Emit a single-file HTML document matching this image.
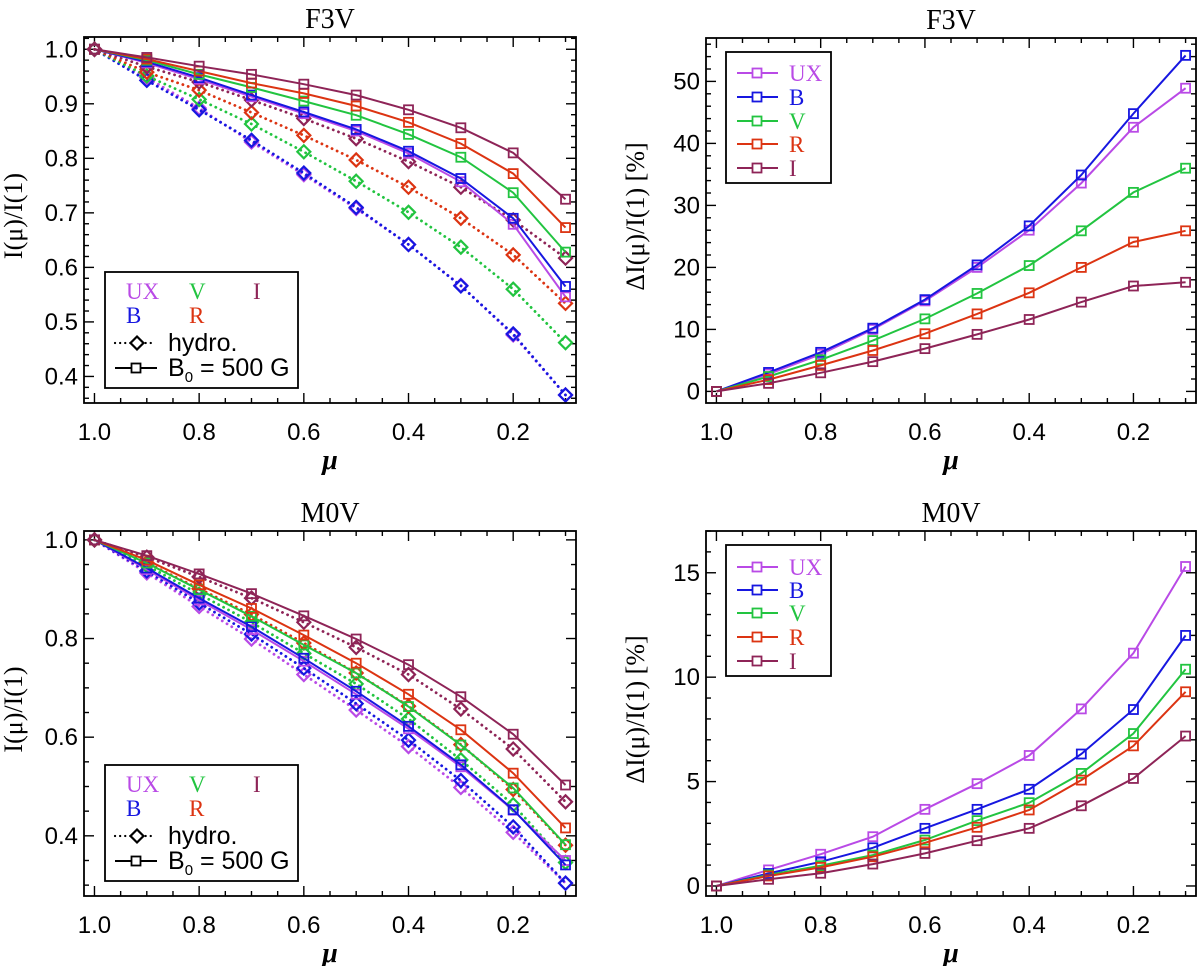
<!DOCTYPE html>
<html><head><meta charset="utf-8">
<style>
html,body{margin:0;padding:0;background:#fff;}
svg{display:block;font-family:"Liberation Sans",sans-serif;}
</style></head>
<body>
<svg id="fig" width="1200" height="966" viewBox="0 0 1200 966" xmlns="http://www.w3.org/2000/svg"></svg>
<script>
// ---------- data ----------
const mu = [1.0, 0.9, 0.8, 0.7, 0.6, 0.5, 0.4, 0.3, 0.2, 0.1];
const bands = ["UX", "B", "V", "R", "I"];
// F3V intensity, B0 = 500 G
const f3vMagUX = [1, 0.975, 0.945, 0.913, 0.882, 0.850, 0.809, 0.757, 0.679, 0.546];
const f3vMagB  = [1, 0.977, 0.948, 0.916, 0.885, 0.853, 0.813, 0.763, 0.690, 0.565];
const f3vMagV  = [1, 0.980, 0.954, 0.930, 0.905, 0.879, 0.844, 0.802, 0.737, 0.628];
const f3vMagR  = [1, 0.982, 0.960, 0.938, 0.919, 0.896, 0.866, 0.827, 0.772, 0.673];
const f3vMagI  = [1, 0.985, 0.969, 0.954, 0.936, 0.916, 0.889, 0.856, 0.810, 0.725];
// F3V intensity, hydro
const f3vHydUX = [1, 0.948, 0.892, 0.830, 0.770, 0.708, 0.642, 0.567, 0.476, 0.366];
const f3vHydB  = [1, 0.943, 0.889, 0.833, 0.773, 0.710, 0.642, 0.566, 0.478, 0.366];
const f3vHydV  = [1, 0.951, 0.908, 0.863, 0.812, 0.758, 0.701, 0.637, 0.560, 0.462];
const f3vHydR  = [1, 0.958, 0.925, 0.884, 0.842, 0.797, 0.747, 0.690, 0.623, 0.534];
const f3vHydI  = [1, 0.968, 0.940, 0.907, 0.873, 0.836, 0.794, 0.747, 0.687, 0.617];
// F3V delta [%]
const f3vDUX = [0, 2.8, 6.0, 10.0, 14.6, 20.0, 26.0, 33.6, 42.6, 48.9];
const f3vDB  = [0, 3.06, 6.3, 10.2, 14.8, 20.4, 26.7, 34.9, 44.8, 54.2];
const f3vDV  = [0, 2.4, 5.1, 8.2, 11.7, 15.8, 20.3, 25.9, 32.1, 36.0];
const f3vDR  = [0, 1.9, 4.2, 6.6, 9.3, 12.5, 15.9, 20.0, 24.1, 25.9];
const f3vDI  = [0, 1.3, 3.0, 4.8, 6.9, 9.2, 11.6, 14.4, 17.0, 17.6];
// M0V intensity, B0 = 500 G
const m0vMagUX = [1, 0.940, 0.878, 0.818, 0.754, 0.687, 0.617, 0.540, 0.452, 0.350];
const m0vMagB  = [1, 0.943, 0.882, 0.824, 0.760, 0.693, 0.622, 0.544, 0.453, 0.341];
const m0vMagV  = [1, 0.953, 0.899, 0.845, 0.787, 0.730, 0.662, 0.584, 0.497, 0.382];
const m0vMagR  = [1, 0.959, 0.909, 0.861, 0.807, 0.750, 0.687, 0.615, 0.527, 0.416];
const m0vMagI  = [1, 0.968, 0.931, 0.891, 0.846, 0.799, 0.747, 0.682, 0.606, 0.503];
// M0V intensity, hydro
const m0vHydUX = [1, 0.933, 0.865, 0.799, 0.727, 0.655, 0.581, 0.498, 0.407, 0.304];
const m0vHydB  = [1, 0.937, 0.872, 0.809, 0.740, 0.668, 0.594, 0.512, 0.418, 0.304];
const m0vHydV  = [1, 0.948, 0.890, 0.833, 0.770, 0.708, 0.637, 0.554, 0.463, 0.346];
const m0vHydR  = [1, 0.954, 0.901, 0.849, 0.791, 0.730, 0.663, 0.585, 0.494, 0.381];
const m0vHydI  = [1, 0.965, 0.925, 0.882, 0.833, 0.782, 0.727, 0.657, 0.576, 0.469];
// M0V delta [%]
const m0vDUX = [0, 0.77, 1.52, 2.36, 3.67, 4.9, 6.25, 8.48, 11.15, 15.3];
const m0vDB  = [0, 0.6, 1.16, 1.83, 2.76, 3.67, 4.63, 6.32, 8.45, 12.0];
const m0vDV  = [0, 0.53, 0.97, 1.48, 2.2, 3.13, 3.99, 5.39, 7.3, 10.38];
const m0vDR  = [0, 0.48, 0.89, 1.40, 2.07, 2.81, 3.64, 5.07, 6.71, 9.3];
const m0vDI  = [0, 0.32, 0.61, 1.05, 1.56, 2.17, 2.76, 3.84, 5.15, 7.18];
// tick labels
const xTickLabels = ["1.0", "0.8", "0.6", "0.4", "0.2"];
const f3vITicks = ["1.0", "0.9", "0.8", "0.7", "0.6", "0.5", "0.4"];
const f3vDTicks = ["0", "10", "20", "30", "40", "50"];
const m0vITicks = ["1.0", "0.8", "0.6", "0.4"];
const m0vDTicks = ["0", "5", "10", "15"];

const colors = {UX:"#b94ae6", B:"#1717e0", V:"#22c440", R:"#dc3412", I:"#8e2457"};
const NS = "http://www.w3.org/2000/svg";
const svg = document.getElementById("fig");
function mk(tag, attrs, parent){
  const e = document.createElementNS(NS, tag);
  for (const k in attrs) e.setAttribute(k, attrs[k]);
  (parent||svg).appendChild(e);
  return e;
}
function panel(p){
  const g = mk("g", {});
  
  
  const X = v => p.x0 + (1.02 - v) / (1.02 - 0.08) * (p.x1 - p.x0);
  const Y = v => p.y1 - (v - p.ymin) / (p.ymax - p.ymin) * (p.y1 - p.y0);
  const tg = mk("g", {stroke:"#000","stroke-width":1.4}, g);
  for (let i = 0; i <= 20; i++){
    const v = 1.0 - i*0.05; if (v < 0.08) break;
    const len = (i % 4 === 0) ? 10 : 5;
    const xx = X(v);
    mk("line",{x1:xx,y1:p.y1,x2:xx,y2:p.y1-len},tg);
    mk("line",{x1:xx,y1:p.y0,x2:xx,y2:p.y0+len},tg);
  }
  for (let v = p.yStart; v <= p.ymax + 1e-9; v += p.yMinor){
    if (v < p.ymin) continue;
    const q = (v - p.yFirstMajor)/p.yMajor;
    const isMaj = Math.abs(Math.round(q) - q) < 1e-6;
    const len = isMaj ? 10 : 5;
    const yy = Y(v);
    mk("line",{x1:p.x0,y1:yy,x2:p.x0+len,y2:yy},tg);
    mk("line",{x1:p.x1,y1:yy,x2:p.x1-len,y2:yy},tg);
  }
  xTickLabels.forEach(s => {
    const t = mk("text",{x:X(parseFloat(s)),y:p.y1+37,"font-size":24,"text-anchor":"middle"},g);
    t.textContent = s;
    
    
  });
  p.yTicks.forEach(s => {
    const t = mk("text",{x:p.x0-6,y:Y(parseFloat(s))+8,"font-size":24,"text-anchor":"end"},g);
    t.textContent = s;
    
    
  });
  const clip = "clip-" + p.name;
  const cp = mk("clipPath",{id:clip},g);
  mk("rect",{x:p.x0,y:p.y0,width:p.x1-p.x0,height:p.y1-p.y0},cp);
  const sg = mk("g",{"clip-path":"url(#"+clip+")"},g);
  p.series.forEach(s => {
    const pts = mu.map((m,i) => X(m).toFixed(1)+","+Y(s.vals[i]).toFixed(1)).join(" ");
    const line = mk("polyline",{points:pts,fill:"none",stroke:colors[s.band],"stroke-width":s.dotted?2.8:2,
      "stroke-dasharray":s.dotted?"0.1 5.5":"none","stroke-linecap":s.dotted?"round":"butt"},sg);
    
    
    mu.forEach((m,i) => {
      const cx = X(m), cy = Y(s.vals[i]);
      let mkEl;
      if (s.dotted) mkEl = mk("polygon",{points:`${cx},${cy-6.5} ${cx+6.5},${cy} ${cx},${cy+6.5} ${cx-6.5},${cy}`,fill:"none",stroke:colors[s.band],"stroke-width":2.2},sg);
      else mkEl = mk("rect",{x:cx-4.5,y:cy-4.5,width:9,height:9,fill:"none",stroke:colors[s.band],"stroke-width":1.8},sg);
      
      
    });
  });
  const fr = mk("rect",{x:p.x0,y:p.y0,width:p.x1-p.x0,height:p.y1-p.y0,fill:"none",stroke:"#000","stroke-width":1.8},g);
  
  
  const cxm = (p.x0+p.x1)/2;
  const tt = mk("text",{x:cxm,y:p.y0-9,"font-size":28,"text-anchor":"middle","font-family":"Liberation Serif, serif"},g);
  tt.textContent = p.title;
  
  
  const xt = mk("text",{x:cxm,y:p.y1+66,"font-size":28,"font-weight":"bold","font-style":"italic","text-anchor":"middle","font-family":"Liberation Serif, serif"},g);
  xt.textContent = "μ";
  
  
  const ycy = (p.y0+p.y1)/2 - 4;
  const yt = mk("text",{x:0,y:0,"font-size":26,"text-anchor":"middle","font-family":"Liberation Serif, serif",
    transform:`translate(${p.x0-62},${ycy}) rotate(-90)`},g);
  yt.textContent = p.ylabel;
  
  
  return g;
}
function mkSeries(list, dotted){ return list.map((v,i)=>({band:bands[i],vals:v,dotted:dotted})); }

panel({name:"f3v-intensity-panel",title:"F3V",ylabel:"I(μ)/I(1)",x0:84,x1:576,y0:37,y1:403,
  ymin:0.3513,ymax:1.0225,yStart:0.36,yFirstMajor:0.4,yMinor:0.02,yMajor:0.1,yTicks:f3vITicks,
  series:mkSeries([f3vHydUX,f3vHydB,f3vHydV,f3vHydR,f3vHydI],true).concat(mkSeries([f3vMagUX,f3vMagB,f3vMagV,f3vMagR,f3vMagI],false))});
panel({name:"f3v-delta-panel",title:"F3V",ylabel:"ΔI(μ)/I(1)  [%]",x0:706,x1:1196,y0:38,y1:403,
  ymin:-1.87,ymax:57.0,yStart:0,yFirstMajor:0,yMinor:2,yMajor:10,yTicks:f3vDTicks,
  series:mkSeries([f3vDUX,f3vDB,f3vDV,f3vDR,f3vDI],false)});
panel({name:"m0v-intensity-panel",title:"M0V",ylabel:"I(μ)/I(1)",x0:84,x1:576,y0:531,y1:896,
  ymin:0.278,ymax:1.018,yStart:0.3,yFirstMajor:0.4,yMinor:0.05,yMajor:0.2,yTicks:m0vITicks,
  series:mkSeries([m0vHydUX,m0vHydB,m0vHydV,m0vHydR,m0vHydI],true).concat(mkSeries([m0vMagUX,m0vMagB,m0vMagV,m0vMagR,m0vMagI],false))});
panel({name:"m0v-delta-panel",title:"M0V",ylabel:"ΔI(μ)/I(1)  [%]",x0:706,x1:1196,y0:531,y1:896,
  ymin:-0.48,ymax:17.0,yStart:0,yFirstMajor:0,yMinor:1,yMajor:5,yTicks:m0vDTicks,
  series:mkSeries([m0vDUX,m0vDB,m0vDV,m0vDR,m0vDI],false)});

function leftLegend(top){
  const g = mk("g",{});
  
  
  mk("rect",{x:105,y:top,width:193,height:116,fill:"#fff",stroke:"#000","stroke-width":1.8},g);
  const items = [["UX",126,25],["V",189,25],["I",253,25],["B",126,49],["R",189,49]];
  items.forEach(it => {
    const t = mk("text",{x:it[1],y:top+it[2]+2,"font-size":23,fill:colors[it[0]],"font-family":"Liberation Serif, serif"},g);
    t.textContent = it[0];
    
    
  });
  const hy = top+71;
  mk("line",{x1:115,y1:hy,x2:154,y2:hy,stroke:"#000","stroke-width":2.2,"stroke-dasharray":"0.1 5","stroke-linecap":"round"},g);
  mk("polygon",{points:`137,${hy-6.5} 143.5,${hy} 137,${hy+6.5} 130.5,${hy}`,fill:"#fff",stroke:"#000","stroke-width":2.2},g);
  const t1 = mk("text",{x:168,y:hy+8,"font-size":25},g);
  t1.textContent = "hydro.";
  
  
  const my = top+96;
  mk("line",{x1:115,y1:my,x2:157,y2:my,stroke:"#000","stroke-width":2},g);
  mk("rect",{x:131.5,y:my-4.5,width:9,height:9,fill:"#fff",stroke:"#000","stroke-width":1.8},g);
  const t2 = mk("text",{x:168,y:my+8,"font-size":25},g);
  t2.innerHTML = 'B<tspan font-size="15" dy="6">0</tspan><tspan dy="-6"> = 500 G</tspan>';
  
  
}
leftLegend(272);
leftLegend(765);

function rightLegend(top, ys){
  const g = mk("g",{});
  
  
  mk("rect",{x:726,y:top,width:105,height:131,fill:"#fff",stroke:"#000","stroke-width":1.8},g);
  bands.forEach((b,i) => {
    const y = top + ys[i];
    mk("line",{x1:737,y1:y,x2:778,y2:y,stroke:colors[b],"stroke-width":2},g);
    mk("rect",{x:752.5,y:y-4.5,width:9,height:9,fill:"#fff",stroke:colors[b],"stroke-width":1.8},g);
    const t = mk("text",{x:789,y:y+8,"font-size":23,fill:colors[b],"font-family":"Liberation Serif, serif"},g);
    t.textContent = b;
    
    
  });
}
rightLegend(52,[21,45,69,92,116]);
rightLegend(545,[22,45,68,92,116]);
</script>
</body></html>
